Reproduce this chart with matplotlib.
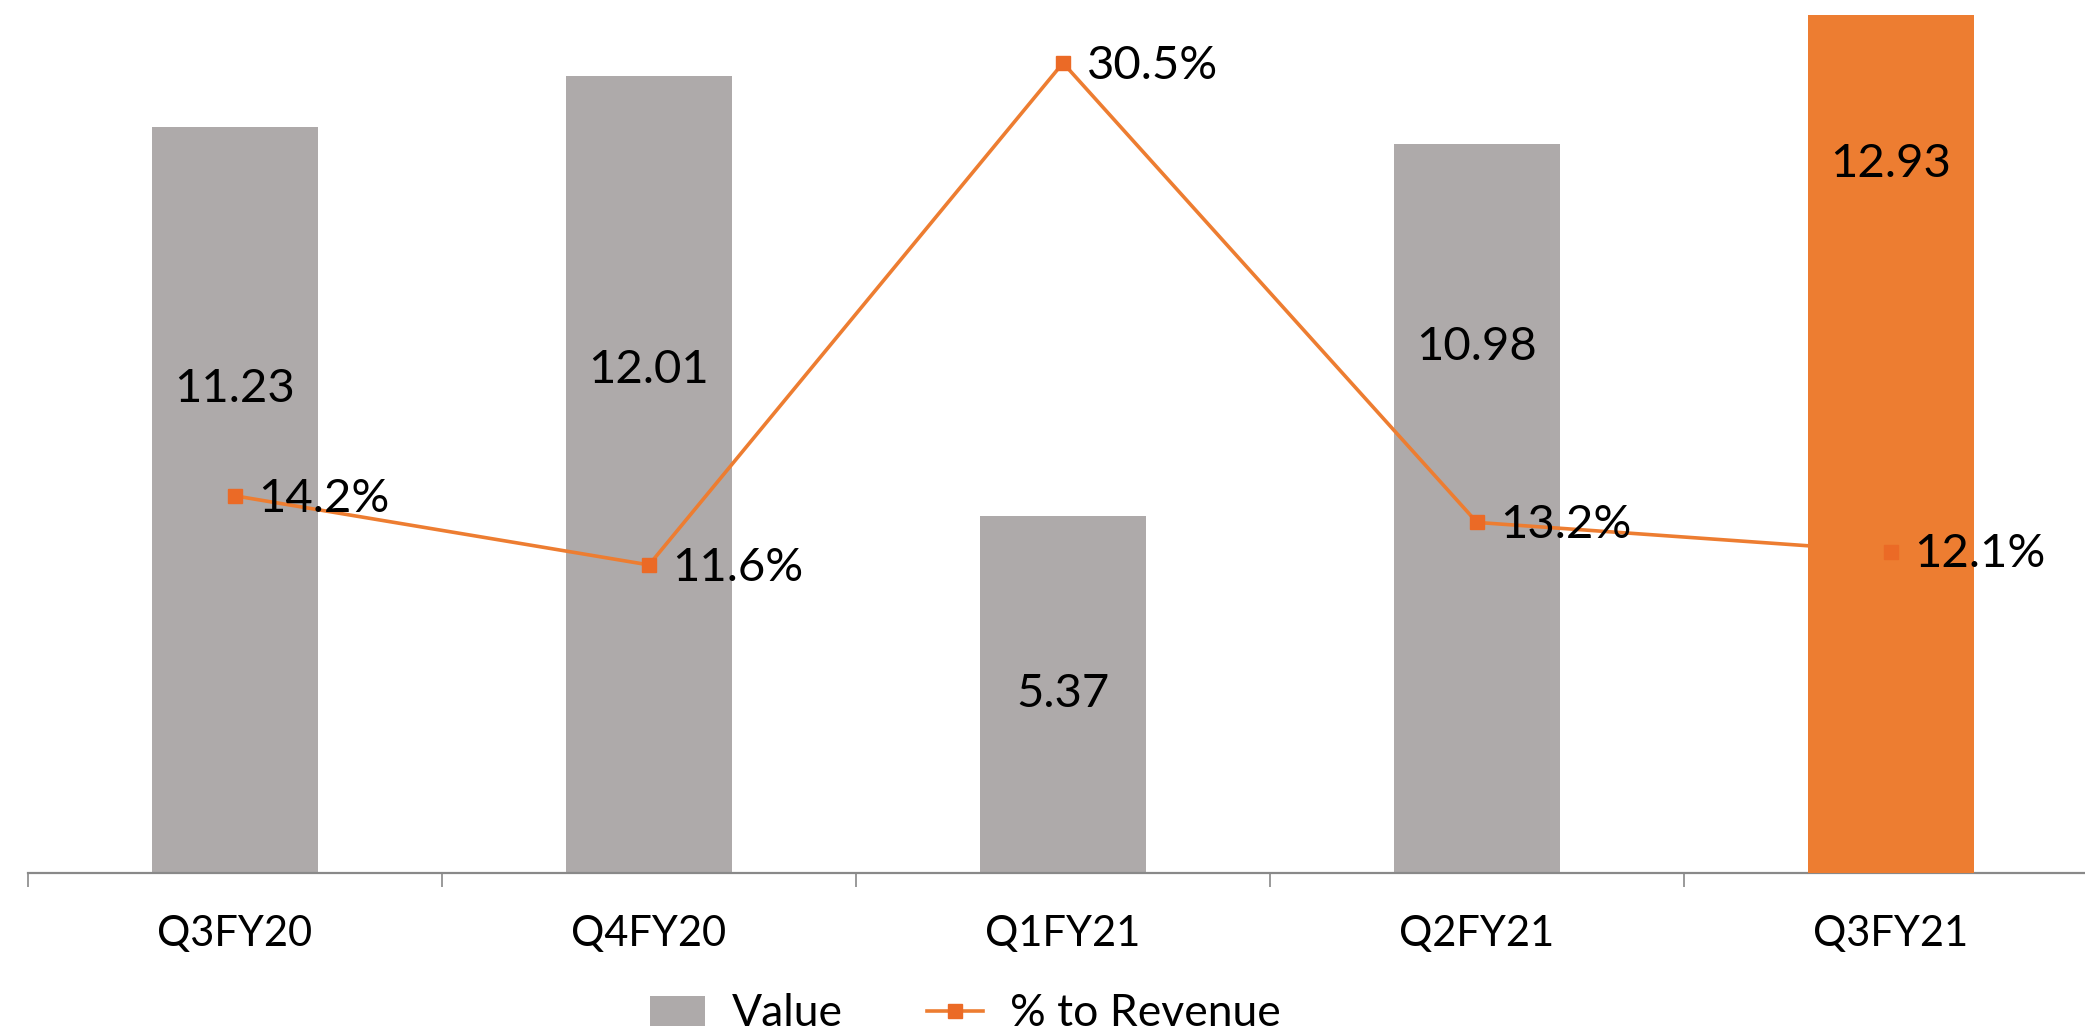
import matplotlib.pyplot as plt
from matplotlib.patches import Patch
from matplotlib.lines import Line2D

quarters = ['Q3FY20', 'Q4FY20', 'Q1FY21', 'Q2FY21', 'Q3FY21']
value = [11.23, 12.01, 5.37, 10.98, 12.93]
pct_revenue = [14.2, 11.6, 30.5, 13.2, 12.1]
# where the value labels sit inside the bars (value-axis units)
value_label_y = [7.29, 7.58, 2.70, 7.92, 10.68]

gray = '#AEAAAA'
orange = '#ED7D31'
marker_col = '#EB6A26'

plt.rcParams['font.family'] = ['Lato', 'DejaVu Sans']

fig = plt.figure(figsize=(20.85, 10.34), dpi=100)
ax = fig.add_axes([28 / 2085, 161 / 1034, 2070 / 2085, 873 / 1034])
ax2 = ax.twinx()

x = list(range(len(quarters)))

# gray bars for all but the highlighted last quarter
ax.bar(x[:-1], value[:-1], width=0.4, color=gray, zorder=2)
ax.set_xlim(-0.5, 4.5)
ax.set_ylim(0, 13.15)

# line on the secondary axis
ax2.plot(x, pct_revenue, color=orange, lw=2.6, zorder=2)
ax2.plot(x[:-1], pct_revenue[:-1], ls='none', marker='s', ms=9.5,
         color=marker_col, zorder=4)
# highlighted bar sits over the line, drawn in value-axis units
ax2.bar(x[-1], value[-1], width=0.4, color=orange, zorder=3,
        transform=ax.transData)
ax2.plot(x[-1], pct_revenue[-1], ls='none', marker='s', ms=9.5,
         color=marker_col, zorder=4)
ax2.set_ylim(0, 32.87)
ax2.set_xlim(-0.5, 4.5)

for xi, v, ly in zip(x, value, value_label_y):
    ax2.text(xi, ly, '{:.2f}'.format(v), transform=ax.transData,
             ha='center', va='center', fontsize=34, color='black', zorder=6)

for xi, p in zip(x, pct_revenue):
    ax2.annotate('{:.1f}%'.format(p), (xi, p), xytext=(17, -2),
                 textcoords='offset points', ha='left', va='center',
                 fontsize=34, color='black', zorder=6)

# axes styling
for s in ['top', 'right', 'left']:
    ax.spines[s].set_visible(False)
    ax2.spines[s].set_visible(False)
ax2.spines['bottom'].set_visible(False)
ax.spines['bottom'].set_color('#898989')
ax.spines['bottom'].set_linewidth(1.6)
ax.set_yticks([])
ax2.set_yticks([])

ax.set_xticks(x)
ax.set_xticklabels(quarters)
ax.set_xticks([i - 0.5 for i in range(len(quarters) + 1)], minor=True)
ax.tick_params(axis='x', which='major', length=0, pad=30, labelsize=30)
ax.tick_params(axis='x', which='minor', length=10, width=1.2,
               color='#898989', direction='out')

handles = [Patch(facecolor=gray, edgecolor='none'),
           Line2D([], [], color=orange, lw=2.6, marker='s', ms=9.5,
                  mfc=marker_col, mec=marker_col)]
fig.legend(handles, ['Value', '% to Revenue'], loc='center',
           bbox_to_anchor=(965 / 2085, 20 / 1034), ncol=2, frameon=False,
           fontsize=32, handlelength=1.25, handleheight=0.65,
           handletextpad=0.6, columnspacing=1.9)

fig.savefig('out.png', dpi=100)
